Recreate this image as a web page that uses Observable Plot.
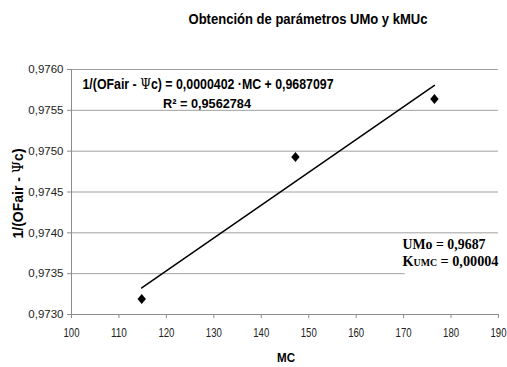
<!DOCTYPE html>
<html>
<head>
<meta charset="utf-8">
<script src="https://cdn.jsdelivr.net/npm/d3@7"></script>
<script src="https://cdn.jsdelivr.net/npm/@observablehq/plot@0.6"></script>
<style>
  html, body { margin: 0; padding: 0; background: #fff; }
  #chart svg { display: block; }
</style>
</head>
<body>
<div id="chart"></div>
<script>
// Measured points: MC vs 1/(OFair - Ψc)
const mc = [114.8, 147.2, 176.5];
const invOF = [0.97319, 0.97493, 0.97564];

// Linear trend fitted to the points (as printed on the chart)
const slope = 0.0000402;
const intercept = 0.9687097;
const r2 = "0,9562784";

// Derived parameters
const umo = "0,9687";
const kumc = "0,00004";

// Axis ticks
const xTicks = [100, 110, 120, 130, 140, 150, 160, 170, 180, 190];
const yTicks = [0.9730, 0.9735, 0.9740, 0.9745, 0.9750, 0.9755, 0.9760];

const points = mc.map((x, i) => ({x, y: invOF[i]}));
const trendEnds = [mc[0], mc[mc.length - 1]];
const trend = trendEnds.map(x => ({x, y: slope * x + intercept}));

// Excel-style diamond marker, slightly taller than wide
const diamond = {
  draw(ctx) {
    const w = 4.2, h = 5;
    ctx.moveTo(0, -h); ctx.lineTo(w, 0); ctx.lineTo(0, h); ctx.lineTo(-w, 0); ctx.closePath();
  }
};

const comma = d => d.toFixed(4).replace(".", ",");
const sans = "Liberation Sans, Arial, sans-serif";
const serif = "Liberation Serif, Times New Roman, serif";

const chart = Plot.plot({
  width: 507,
  height: 367,
  marginLeft: 71,
  marginRight: 9,
  marginTop: 69,
  marginBottom: 53,
  style: {fontFamily: sans, background: "#fff"},
  x: {domain: [100, 190]},
  y: {domain: [0.9730, 0.9760]},
  marks: [
    Plot.gridY(yTicks, {stroke: "#a0a0a0", strokeOpacity: 1}),
    // white box under the parameter labels
    Plot.rect([{x1: 170.3, x2: 190, y1: 0.97335, y2: 0.97392}], {x1: "x1", x2: "x2", y1: "y1", y2: "y2", fill: "#fff"}),
    Plot.ruleX([100], {stroke: "#8c8c8c"}),
    Plot.ruleY([0.9730], {stroke: "#8c8c8c"}),
    Plot.axisY(yTicks, {
      tickFormat: comma, tickSize: 4, tickPadding: 4, fontSize: 11.5,
      stroke: "#8c8c8c", color: "#222", label: null
    }),
    Plot.axisX(xTicks, {
      tickSize: 4, tickPadding: 9, fontSize: 13.5,
      stroke: "#8c8c8c", color: "#222", label: null
    }),
    Plot.line(trend, {x: "x", y: "y", stroke: "#000", strokeWidth: 1.5}),
    Plot.dot(points, {x: "x", y: "y", symbol: diamond, fill: "#000", stroke: "none"}),
    // title
    Plot.text(["Obtención de parámetros UMo y kMUc"], {
      frameAnchor: "top", dx: 23, dy: -46, lineAnchor: "bottom",
      fontSize: 15.5, fontWeight: "bold", fill: "#000", className: "t-title"
    }),
    // trend equation
    Plot.text(["1/(OFair - \u03A8c) = 0,0000402 \u00B7MC + 0,9687097"], {
      frameAnchor: "top", dx: -77, dy: 19, lineAnchor: "bottom",
      fontSize: 14, fontWeight: "bold", fill: "#000", className: "t-eq"
    }),
    Plot.text([`R\u00B2 = ${r2}`], {
      frameAnchor: "top", dx: -78, dy: 38, lineAnchor: "bottom",
      fontSize: 13.5, fontWeight: "bold", fill: "#000", className: "t-r2"
    }),
    // parameters
    Plot.text([`UMo = ${umo}`], {
      frameAnchor: "bottom-right", dx: -96, dy: -65.5, textAnchor: "start", lineAnchor: "bottom",
      fontFamily: serif, fontSize: 14.5, fontWeight: "bold", fill: "#000", className: "t-umo"
    }),
    Plot.text([`Kumc = ${kumc}`], {
      frameAnchor: "bottom-right", dx: -96, dy: -48.5, textAnchor: "start", lineAnchor: "bottom",
      fontFamily: serif, fontSize: 14.5, fontWeight: "bold", fontVariant: "small-caps", fill: "#000", className: "t-kumc"
    }),
    // axis titles
    Plot.text(["MC"], {
      frameAnchor: "bottom", dx: 1, dy: 47.5, lineAnchor: "bottom",
      fontSize: 13.5, fontWeight: "bold", fill: "#000", className: "t-xlab"
    }),
    Plot.text(["1/(OFair - \u03A8c)"], {
      frameAnchor: "left", dx: -53, dy: 1.5, rotate: -90, textAnchor: "middle", lineAnchor: "middle",
      fontSize: 14, fontWeight: "bold", fill: "#000", className: "t-ylab"
    })
  ]
});

document.getElementById("chart").append(chart);

const svg = d3.select(chart);

// Set the Greek psi in a plain serif face, as a symbol glyph
function symbolPsi(sel) {
  sel.each(function() {
    const parts = this.textContent.split("\u03A8");
    const t = d3.select(this).text(null);
    t.append("tspan").text(parts[0]);
    t.append("tspan").attr("font-family", "DejaVu Serif").attr("font-weight", "normal").text("\u03A8");
    t.append("tspan").text(parts[1]);
  });
}
symbolPsi(svg.selectAll(".t-eq text"));
symbolPsi(svg.selectAll(".t-ylab text"));

// Narrow set widths for the condensed labels
const fit = (sel, len) => sel.attr("textLength", len).attr("lengthAdjust", "spacingAndGlyphs");
fit(svg.selectAll(".t-title text"), 239);
fit(svg.selectAll(".t-eq text"), 251);
fit(svg.selectAll(".t-r2 text"), 88);
fit(svg.selectAll(".t-umo text"), 83);
fit(svg.selectAll(".t-kumc text"), 96);
fit(svg.selectAll(".t-xlab text"), 18);
fit(svg.selectAll("[aria-label='x-axis tick label'] text"), 16);
</script>
</body>
</html>
